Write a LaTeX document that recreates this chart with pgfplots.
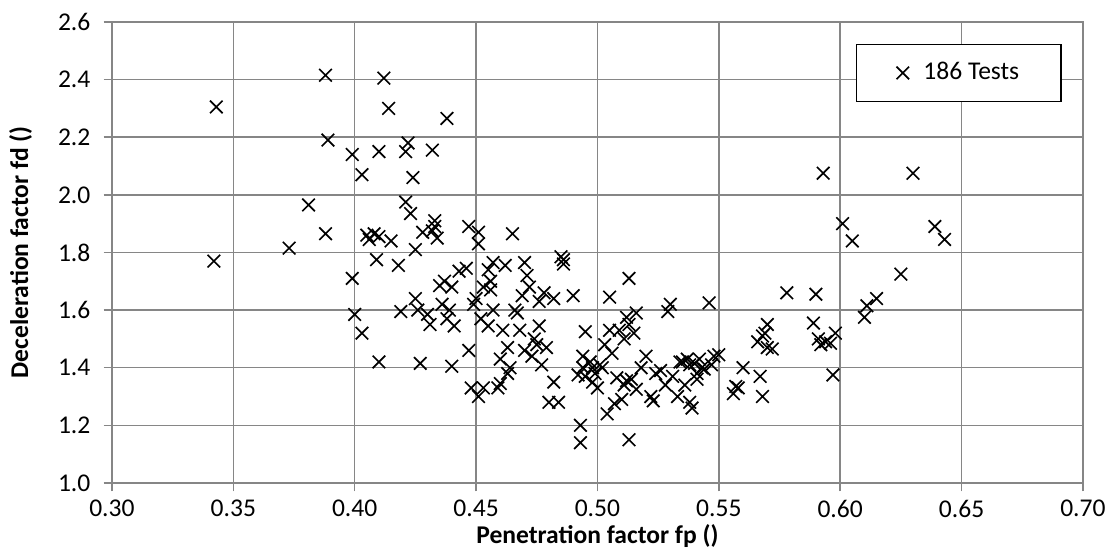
\documentclass[border=0pt]{standalone}
\usepackage{fontspec}
\setmainfont{Carlito}
\usepackage{pgfplots}
\pgfplotsset{compat=1.18}
\definecolor{gridgray}{RGB}{134,134,134}
\begin{document}
\fontsize{9.2}{11}\selectfont
\begin{tikzpicture}
\path[use as bounding box] (-40.3pt,-25.6pt) rectangle (359.7pt,173.9pt);
\begin{axis}[
  scale only axis, width=349.6pt, height=166pt,
  at={(0,0)}, anchor=south west,
  xmin=0.30, xmax=0.70, ymin=1.0, ymax=2.6,
  xtick={0.30,0.35,...,0.70}, ytick={1.0,1.2,...,2.6},
  xticklabel style={/pgf/number format/.cd,fixed,fixed zerofill,precision=2},
  yticklabel style={xshift=-1.5pt,/pgf/number format/.cd,fixed,fixed zerofill,precision=1},
  /pgf/number format/assume math mode=true,
  grid=major, major grid style={color=gridgray, line width=0.5pt},
  axis line style={color=gridgray, line width=0.5pt},
  tick style={color=gridgray, line width=0.5pt},
  tick align=outside, major tick length=3pt,
  xtick pos=bottom, ytick pos=left,
  xlabel={\textbf{Penetration factor fp ()}},
  ylabel={\textbf{Deceleration factor fd ()}},
  xlabel style={yshift=4pt},
  ylabel style={yshift=3pt},
  legend style={at={(0.978,0.953)}, anchor=north east, draw=black, fill=white,
    line width=0.5pt, inner xsep=13pt, inner ysep=4.5pt, font=\fontsize{9.2}{11}\selectfont},
  legend cell align=left,
  legend image code/.code={\draw[#1] plot coordinates {(0.12cm,0cm)}; \path (0cm,0cm) (0.3cm,0cm);},
]
\addplot[only marks, mark=x, mark size=3.2pt, line width=0.6pt, black] coordinates {
(0.343,2.305) (0.342,1.77) (0.373,1.815) (0.381,1.965) (0.388,2.415) (0.389,2.19)
(0.388,1.865) (0.399,2.14) (0.399,1.71) (0.400,1.585) (0.403,2.07) (0.403,1.52)
(0.405,1.86) (0.406,1.845) (0.408,1.865) (0.409,1.775) (0.410,2.15) (0.410,1.855)
(0.410,1.42) (0.412,2.405) (0.414,2.30) (0.415,1.84) (0.418,1.755) (0.419,1.595)
(0.421,2.15) (0.421,1.975) (0.422,2.18) (0.423,1.935) (0.424,2.06) (0.425,1.81)
(0.425,1.64) (0.426,1.60) (0.427,1.415) (0.428,1.87) (0.430,1.585) (0.431,1.55)
(0.432,1.875) (0.432,2.155) (0.433,1.89) (0.433,1.91) (0.434,1.85) (0.435,1.685)
(0.436,1.62) (0.437,1.70) (0.438,2.265) (0.438,1.57) (0.439,1.60) (0.440,1.405)
(0.440,1.68) (0.441,1.545) (0.443,1.735) (0.446,1.745) (0.447,1.89) (0.447,1.46)
(0.448,1.33) (0.449,1.62) (0.450,1.64) (0.451,1.87) (0.451,1.83) (0.451,1.30)
(0.452,1.57) (0.453,1.68) (0.453,1.33) (0.455,1.74) (0.455,1.545) (0.456,1.67)
(0.456,1.70) (0.457,1.765) (0.457,1.60) (0.459,1.33) (0.460,1.345) (0.460,1.43)
(0.461,1.53) (0.462,1.755) (0.463,1.38) (0.463,1.47) (0.464,1.40) (0.465,1.865)
(0.466,1.60) (0.467,1.59) (0.468,1.53) (0.469,1.65) (0.470,1.765) (0.470,1.46)
(0.471,1.72) (0.472,1.68) (0.473,1.44) (0.474,1.50) (0.475,1.48) (0.476,1.63)
(0.476,1.545) (0.477,1.41) (0.478,1.66) (0.479,1.47) (0.480,1.28) (0.482,1.35)
(0.482,1.64) (0.484,1.28) (0.485,1.785) (0.486,1.775) (0.486,1.76) (0.490,1.65)
(0.492,1.375) (0.493,1.20) (0.493,1.14) (0.494,1.40) (0.494,1.44) (0.495,1.525)
(0.495,1.37) (0.497,1.42) (0.498,1.40) (0.498,1.35) (0.499,1.38) (0.500,1.33)
(0.501,1.41) (0.502,1.40) (0.503,1.48) (0.504,1.24) (0.505,1.645) (0.505,1.53)
(0.506,1.45) (0.507,1.275) (0.508,1.365) (0.509,1.53) (0.510,1.29) (0.511,1.34)
(0.511,1.50) (0.512,1.355) (0.512,1.575) (0.513,1.71) (0.513,1.15) (0.513,1.55)
(0.514,1.36) (0.515,1.52) (0.516,1.59) (0.516,1.325) (0.518,1.40) (0.520,1.44)
(0.522,1.30) (0.523,1.285) (0.524,1.38) (0.526,1.39) (0.528,1.34) (0.529,1.595)
(0.530,1.62) (0.531,1.37) (0.533,1.30) (0.534,1.42) (0.535,1.42) (0.536,1.34)
(0.537,1.43) (0.538,1.41) (0.538,1.28) (0.539,1.26) (0.540,1.415) (0.541,1.36)
(0.541,1.38) (0.542,1.43) (0.543,1.40) (0.544,1.395) (0.546,1.625) (0.547,1.41)
(0.548,1.44) (0.550,1.445) (0.556,1.31) (0.557,1.335) (0.558,1.33) (0.560,1.40)
(0.566,1.49) (0.567,1.37) (0.568,1.51) (0.568,1.30) (0.569,1.52) (0.570,1.47)
(0.570,1.55) (0.572,1.465) (0.578,1.66) (0.589,1.555) (0.590,1.655) (0.591,1.50)
(0.592,1.48) (0.593,2.075) (0.594,1.49) (0.596,1.485) (0.597,1.375) (0.598,1.52)
(0.601,1.90) (0.605,1.84) (0.610,1.575) (0.611,1.615) (0.615,1.64) (0.625,1.725)
(0.630,2.075) (0.639,1.89) (0.643,1.845)
};
\addlegendentry{186 Tests}
\end{axis}
\end{tikzpicture}
\end{document}
